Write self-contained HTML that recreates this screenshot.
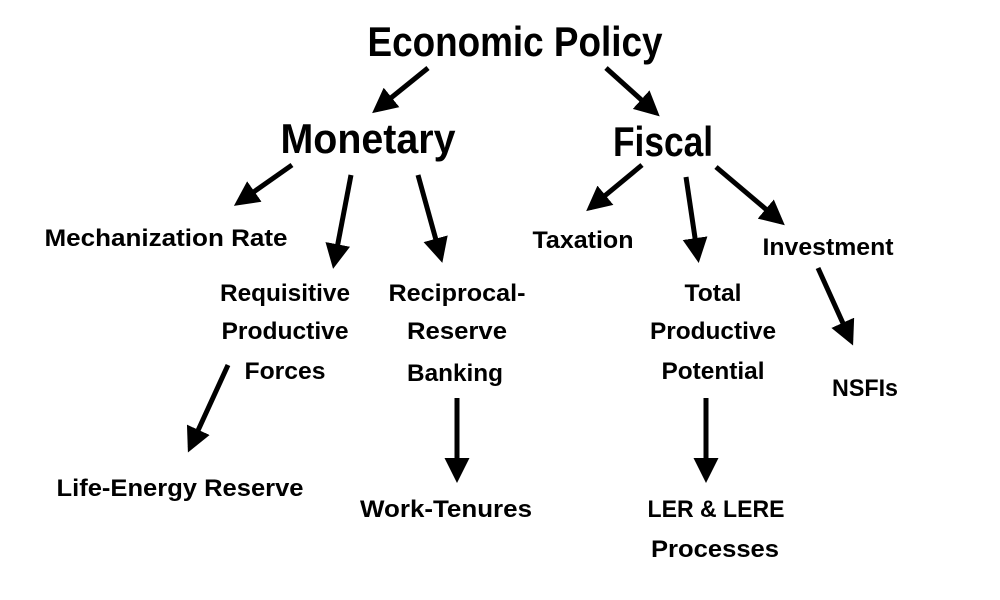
<!DOCTYPE html>
<html><head><style>
html,body{margin:0;padding:0;background:#fff;}
svg{display:block}
text{font-family:"Liberation Sans",sans-serif;font-weight:bold;fill:#000;text-anchor:middle}
.l{font-size:24px}
.t{font-size:42px}
</style></head><body>
<svg width="1000" height="600" viewBox="0 0 1000 600">
<defs>
<marker id="a" markerWidth="5" markerHeight="5" refX="4" refY="2.5" orient="auto" markerUnits="strokeWidth">
<path d="M0,0 L5,2.5 L0,5 z" fill="#000"/>
</marker>
</defs>
<g stroke="#000" stroke-width="5" marker-end="url(#a)">
<line x1="428" y1="68" x2="376" y2="110"/>
<line x1="606" y1="68" x2="656" y2="113"/>
<line x1="292" y1="165" x2="238" y2="203"/>
<line x1="351" y1="175" x2="334" y2="264"/>
<line x1="418" y1="175" x2="441" y2="258"/>
<line x1="642" y1="165" x2="590" y2="208"/>
<line x1="686" y1="177" x2="698" y2="258"/>
<line x1="716" y1="167" x2="781" y2="222"/>
<line x1="818" y1="268" x2="851" y2="341"/>
<line x1="228" y1="365" x2="190" y2="448"/>
<line x1="457" y1="398" x2="457" y2="478"/>
<line x1="706" y1="398" x2="706" y2="478"/>
</g>
<text class="t" x="515" y="56" textLength="295" lengthAdjust="spacingAndGlyphs">Economic Policy</text>
<text class="t" x="368" y="153" textLength="175" lengthAdjust="spacingAndGlyphs">Monetary</text>
<text class="t" x="663" y="156" textLength="100" lengthAdjust="spacingAndGlyphs">Fiscal</text>
<text class="l" x="166" y="246" textLength="243" lengthAdjust="spacingAndGlyphs">Mechanization Rate</text>
<text class="l" x="583" y="248" textLength="101" lengthAdjust="spacingAndGlyphs">Taxation</text>
<text class="l" x="828" y="255" textLength="131" lengthAdjust="spacingAndGlyphs">Investment</text>
<text class="l" x="285" y="301" textLength="130" lengthAdjust="spacingAndGlyphs">Requisitive</text>
<text class="l" x="285" y="339" textLength="127" lengthAdjust="spacingAndGlyphs">Productive</text>
<text class="l" x="285" y="379" textLength="81" lengthAdjust="spacingAndGlyphs">Forces</text>
<text class="l" x="457" y="301" textLength="137" lengthAdjust="spacingAndGlyphs">Reciprocal-</text>
<text class="l" x="457" y="339" textLength="100" lengthAdjust="spacingAndGlyphs">Reserve</text>
<text class="l" x="455" y="381" textLength="96" lengthAdjust="spacingAndGlyphs">Banking</text>
<text class="l" x="713" y="301" textLength="57" lengthAdjust="spacingAndGlyphs">Total</text>
<text class="l" x="713" y="339" textLength="126" lengthAdjust="spacingAndGlyphs">Productive</text>
<text class="l" x="713" y="379" textLength="103" lengthAdjust="spacingAndGlyphs">Potential</text>
<text class="l" x="865" y="396" textLength="66" lengthAdjust="spacingAndGlyphs">NSFIs</text>
<text class="l" x="180" y="496" textLength="247" lengthAdjust="spacingAndGlyphs">Life-Energy Reserve</text>
<text class="l" x="446" y="517" textLength="172" lengthAdjust="spacingAndGlyphs">Work-Tenures</text>
<text class="l" x="716" y="517" textLength="137" lengthAdjust="spacingAndGlyphs">LER &amp; LERE</text>
<text class="l" x="715" y="557" textLength="128" lengthAdjust="spacingAndGlyphs">Processes</text>
</svg>
</body></html>
